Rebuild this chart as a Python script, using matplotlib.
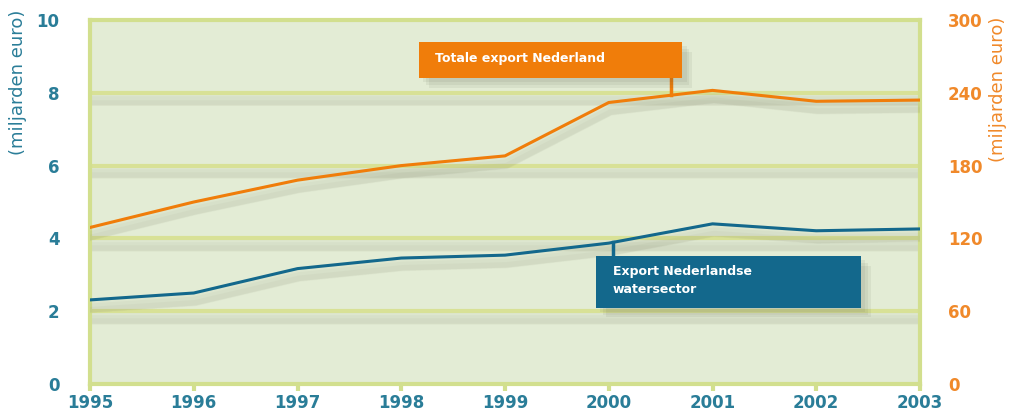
import matplotlib.pyplot as plt
import matplotlib.patheffects as pe
from matplotlib.patches import Rectangle
import numpy as np

years = [1995, 1996, 1997, 1998, 1999, 2000, 2001, 2002, 2003]
# export of the Dutch water sector, left axis (billion euro)
water = [2.31, 2.50, 3.17, 3.46, 3.54, 3.87, 4.40, 4.21, 4.26]
# total Dutch export, right axis (billion euro)
total = [129, 150, 168, 180, 188, 232, 242, 233, 234]

left_ticks = [0, 2, 4, 6, 8, 10]
right_ticks = [0, 60, 120, 180, 240, 300]

blue = '#13688c'
orange = '#f07d0a'
teal_txt = '#2a7d98'
orange_txt = '#f0892a'
bg = '#e3ecd5'
grid_c = '#d8e196'
frame_c = '#d2df8e'

fig = plt.figure(figsize=(10.11, 4.15), dpi=100)
ax = fig.add_axes([90/1011, 1-384/415, 830/1011, 364/415])
ax.set_facecolor(bg)
ax.set_xlim(1995, 2003)
ax.set_ylim(0, 10)
ax.set_yticks(left_ticks)
ax.set_xticks(years)

# soft drop shadow: a few wide, faint strokes below each line
shadow = [pe.SimpleLineShadow(offset=(1, -o), shadow_color='#7a7a60', alpha=0.05, linewidth=w)
	for o, w in [(4, 10), (6, 7), (7, 4)]] + [pe.Normal()]
for t in left_ticks[1:-1]:
	ax.axhline(t, color=grid_c, lw=3, zorder=1, path_effects=shadow)

for s in ax.spines.values():
	s.set_color(frame_c)
	s.set_linewidth(3)

ax.tick_params(axis='y', length=0, pad=22, labelcolor=teal_txt, labelsize=12)
ax.tick_params(axis='x', length=5, width=3, color=frame_c, pad=2, labelcolor=teal_txt, labelsize=12)
for lab in ax.get_xticklabels() + ax.get_yticklabels():
	lab.set_fontweight('bold')
ax.set_ylabel('(miljarden euro)', color=teal_txt, fontsize=13)
ax.yaxis.set_label_coords(-0.076, 0.83)

ax2 = ax.twinx()
ax2.set_ylim(0, 300)
ax2.set_yticks(right_ticks)
ax2.tick_params(axis='y', length=0, pad=20, labelcolor=orange_txt, labelsize=12)
for lab in ax2.get_yticklabels():
	lab.set_fontweight('bold')
for s in ax2.spines.values():
	s.set_visible(False)
ax2.set_ylabel('(miljarden euro)', color=orange_txt, fontsize=13)
ax2.yaxis.set_label_coords(1.083, 0.81)

ax.plot(years, water, color=blue, lw=2.2, zorder=4, path_effects=shadow)
ax2.plot(years, total, color=orange, lw=2.2, zorder=4, path_effects=shadow)

box_shadow = [pe.SimplePatchShadow(offset=(o, -o), shadow_rgbFace='#555544', alpha=0.08)
	for o in (3, 5, 7)] + [pe.Normal()]

# label box for total export, with a stub down to the line
x_or = 2000.6
ax2.plot([x_or, x_or], [np.interp(x_or, years, total), 252], color=orange, lw=2.5, zorder=5)
ax2.add_patch(Rectangle((1998.17, 252), 2.54, 30, facecolor=orange, edgecolor='none',
	zorder=6, path_effects=box_shadow))
ax2.text(1998.33, 268.5, 'Totale export Nederland', color='white', fontsize=9,
	fontweight='bold', va='center', zorder=7)

# label box for the water sector
x_bl = 2000.04
ax.plot([x_bl, x_bl], [np.interp(x_bl, years, water), 3.3], color=blue, lw=2.5, zorder=5)
ax.add_patch(Rectangle((1999.88, 2.1), 2.55, 1.41, facecolor=blue, edgecolor='none',
	zorder=6, path_effects=box_shadow))
ax.text(2000.04, 2.84, 'Export Nederlandse\nwatersector', color='white', fontsize=9,
	fontweight='bold', va='center', linespacing=1.45, zorder=7)

ax.set_zorder(1)
ax2.set_zorder(2)

fig.savefig('out.png', dpi=100)
